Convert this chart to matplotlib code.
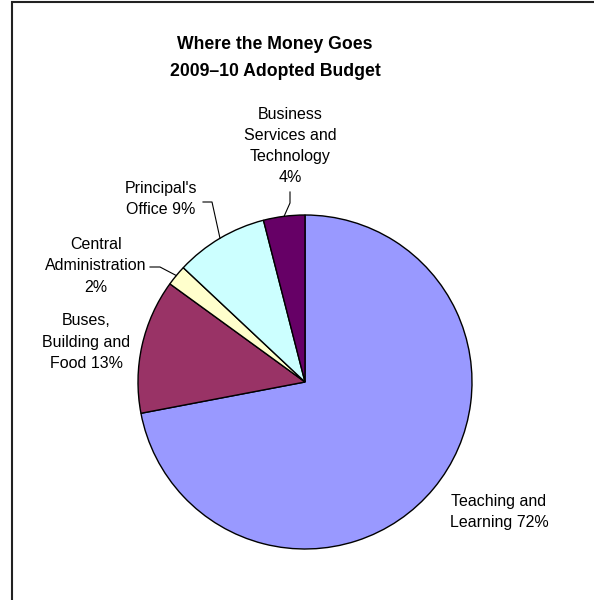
import numpy as np
import matplotlib.pyplot as plt
from matplotlib.patches import Rectangle

plt.rcParams['font.family'] = ['Liberation Sans', 'DejaVu Sans']

# budget shares, clockwise from 12 o'clock
categories = ['Teaching and\nLearning', 'Buses,\nBuilding and\nFood', 'Central\nAdministration',
              "Principal's\nOffice", 'Business\nServices and\nTechnology']
shares = [72, 13, 2, 9, 4]
pct_sep = [' ', ' ', '\n', ' ', '\n']
colors = ['#9999FF', '#993366', '#FFFFCC', '#CCFFFF', '#660066']

W, H = 594, 600
fig = plt.figure(figsize=(W / 100, H / 100), dpi=100)
ax = fig.add_axes([0, 0, 1, 1])


def px(x, y):
    # screen pixel (top-left origin) -> data coords
    return x, H - y


cx, cy = px(305, 382)
r = 167
wedges, _ = ax.pie(shares, colors=colors, startangle=90, counterclock=False,
                   center=(cx, cy), radius=r, frame=True,
                   wedgeprops=dict(edgecolor='black', linewidth=1))
ax.set_xlim(0, W)
ax.set_ylim(0, H)
ax.axis('off')

# label placement and optional leader elbows
label_pos = [(499, 512), (86, 342), (96, 266), (161, 199), (290, 146)]
leaders = [None, None, [(150, 267), (160, 267)], [(203, 202), (212, 202)], [(290, 192), (290, 203)]]

for w, name, val, sep, pos, lead in zip(wedges, categories, shares, pct_sep, label_pos, leaders):
    ax.text(*px(*pos), f'{name}{sep}{val}%', ha='center', va='center', fontsize=11.5,
            linespacing=1.52, color='black')
    if lead:
        mid = np.deg2rad((w.theta1 + w.theta2) / 2)
        ex, ey = cx + r * np.cos(mid), cy + r * np.sin(mid)
        pts = [px(*p) for p in lead] + [(ex, ey)]
        ax.plot([p[0] for p in pts], [p[1] for p in pts], color='black', lw=0.8)

ax.text(*px(275, 58), 'Where the Money Goes\n2009\u201310 Adopted Budget', ha='center', va='center',
        fontsize=12.7, fontweight='bold', linespacing=1.72)

# chart area border
ax.add_patch(Rectangle(px(11.5, 620), 700, 620 - 1.5, fill=False, ec='#222222', lw=1.5, clip_on=False))

fig.savefig('out.png', dpi=100)
